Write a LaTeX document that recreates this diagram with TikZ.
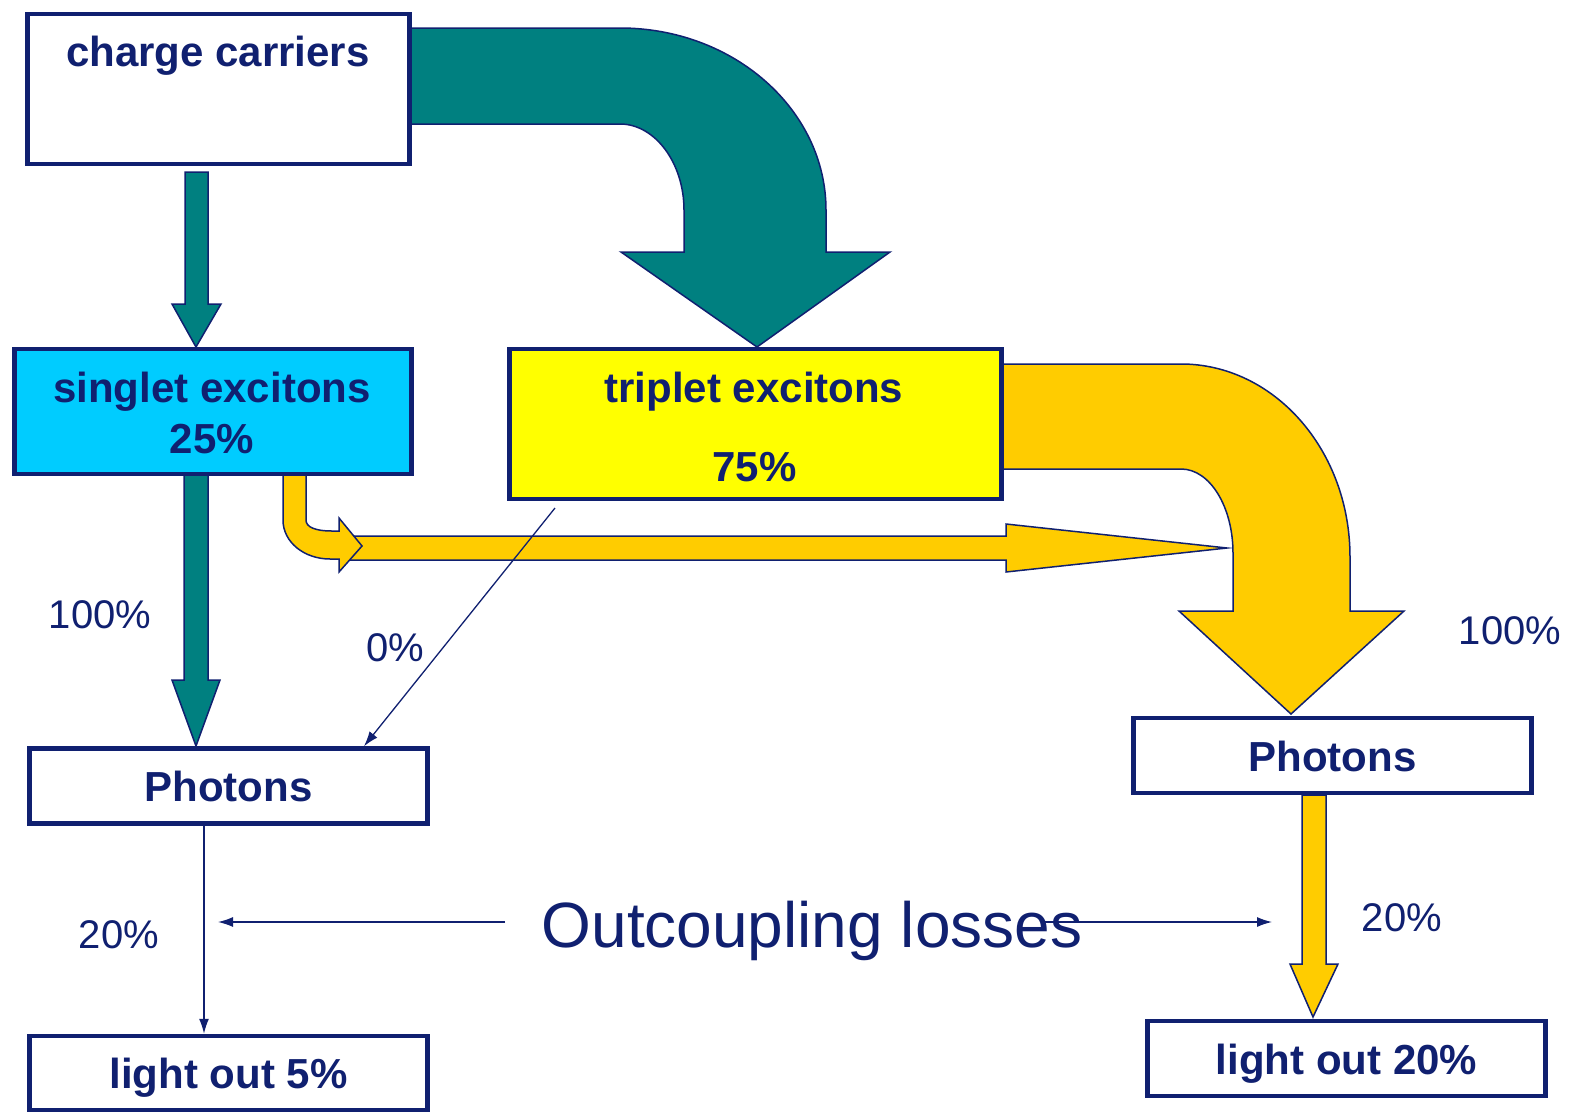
\documentclass[tikz,border=0pt]{standalone}
\usepackage{fontspec}
\setmainfont{Liberation Sans}
\usetikzlibrary{arrows.meta}
\definecolor{navy}{RGB}{16,32,112}
\definecolor{tealflow}{RGB}{0,128,128}
\definecolor{amber}{RGB}{255,204,0}
\definecolor{skyblue}{RGB}{0,204,255}
\definecolor{lemon}{RGB}{255,255,0}
\tikzset{
  box/.style={draw=navy, line width=4.5pt, fill=white, inner sep=0pt, text=navy,
    font=\fontsize{42}{50}\selectfont\bfseries, text height=31pt, text depth=0pt},
  boldtext/.style={text=navy, font=\fontsize{42}{50}\selectfont\bfseries, anchor=base, inner sep=0pt},
  pct/.style={text=navy, font=\fontsize{40}{48}\selectfont, anchor=base, inner sep=0pt},
  fatarrow/.style={draw=navy, line width=1.5pt, line join=miter},
  thinarrow/.style={draw=navy, line width=1.3pt, -{Latex[length=15pt,width=10pt]}}
}
\begin{document}
\begin{tikzpicture}[x=1pt,y=-1pt]
      \useasboundingbox (0,0) rectangle (1572,1114);
      % flows
      \draw[fatarrow, fill=tealflow] (410,28) -- (620,28) .. controls (734,28) and (826,110) .. (826,210)
        -- (826,252) -- (890,252) -- (757,347) -- (621,252) -- (684,252) -- (684,210)
        .. controls (684,163) and (655,124) .. (620,124) -- (410,124) -- cycle;
      \draw[fatarrow, fill=tealflow] (185,172) -- (208,172) -- (208,304) -- (221,304) -- (196,347) -- (172,304) -- (185,304) -- cycle;
      \draw[fatarrow, fill=tealflow] (184,474) -- (208,474) -- (208,680) -- (220,680) -- (196,746) -- (172,680) -- (184,680) -- cycle;
      \draw[fatarrow, fill=amber] (340,536) -- (1006,536) -- (1006,524) -- (1227,548) -- (1006,572) -- (1006,560) -- (340,560) -- cycle;
      \draw[fatarrow, fill=amber] (283,474) -- (306,474) -- (306,520) .. controls (306,527) and (315,531) .. (332,531)
        -- (339,531) -- (339,518) -- (362,546) -- (339,572) -- (339,559) -- (330,559)
        .. controls (304,559) and (283,542) .. (283,520) -- cycle;
      \draw[fatarrow, fill=amber] (1000,364) -- (1181,364) .. controls (1274,364) and (1350,450) .. (1350,557)
        -- (1350,611) -- (1404,611) -- (1291,714) -- (1179,611) -- (1233,611) -- (1233,553)
        .. controls (1233,507) and (1210,469) .. (1181,469) -- (1000,469) -- cycle;
      \draw[fatarrow, fill=amber] (1302,795) -- (1326,795) -- (1326,964) -- (1338,964) -- (1313,1017) -- (1290,964) -- (1302,964) -- cycle;
      % boxes
      \node[box, minimum width=382, minimum height=150] (cc) at (218.5,89) {};
      \node[box, fill=skyblue, minimum width=397, minimum height=125] (singlet) at (213,411.5) {};
      \node[box, fill=lemon, minimum width=492, minimum height=150] (triplet) at (755.5,424) {};
      \node[box, minimum width=398, minimum height=75] (photL) at (228.5,786) {Photons};
      \node[box, minimum width=398, minimum height=75] (photR) at (1332.5,755.5) {Photons};
      \node[box, minimum width=398, minimum height=74] (outL) at (228.5,1073) {light out 5\%};
      \node[box, minimum width=398, minimum height=75] (outR) at (1346.5,1058.5) {light out 20\%};
      \node[boldtext] (cctext) at (218,66) {charge carriers};
      \node[boldtext] (sgtext) at (212,402) {singlet excitons};
      \node[boldtext] (sgpct) at (212,453) {25\%};
      \node[boldtext] (tptext) at (754,402) {triplet excitons};
      \node[boldtext] (tppct) at (754.5,481) {75\%};
      % labels
      \node[pct] (p100l) at (100,628) {100\%};
      \node[pct] (p0) at (395,661) {0\%};
      \node[pct] (p100r) at (1510,644) {100\%};
      \node[pct] (p20l) at (119,948) {20\%};
      \node[pct] (p20r) at (1402,931) {20\%};
      \node[pct, font=\fontsize{64}{72}\selectfont] (loss) at (812,947) {Outcoupling losses};
      % thin arrows
      \coordinate (tpstart) at (555,508);
      \coordinate (dx) at (364,0);
      \coordinate (lx) at (204,0);
      \coordinate (lossL) at (505,922);
      \coordinate (lossLend) at (218,922);
      \coordinate (lossR) at (1045,922);
      \coordinate (lossRend) at (1272,922);
      \draw[thinarrow] (tpstart) -- (photL.north -| dx);
      \draw[thinarrow] (photL.south -| lx) -- (outL.north -| lx);
      \draw[thinarrow] (lossL) -- (lossLend);
      \draw[thinarrow] (lossR) -- (lossRend);
    \end{tikzpicture}
\end{document}
